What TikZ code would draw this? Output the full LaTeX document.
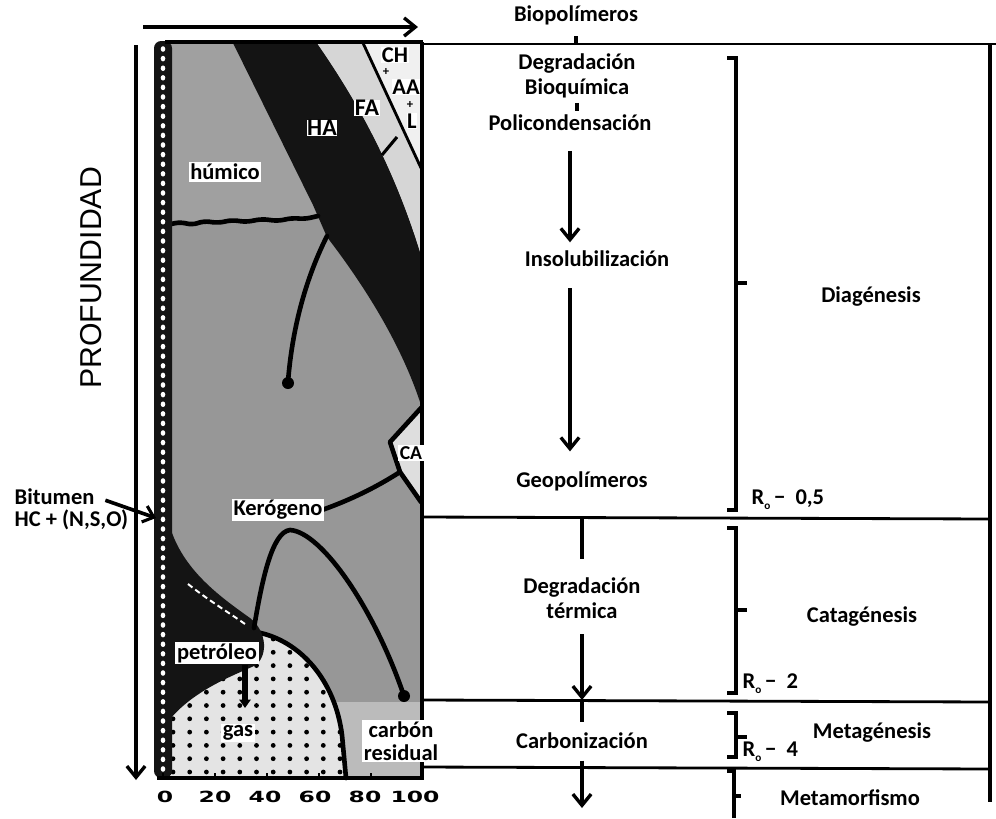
\documentclass[tikz,border=0pt]{standalone}
\usepackage{fontspec}
\usepackage{graphicx}
\setmainfont{Carlito}
\newfontfamily\proffont{Liberation Sans}
\newfontfamily\axisfont{DejaVu Sans}
\usetikzlibrary{arrows.meta}

\definecolor{humgray}{HTML}{A0A0A0}
\definecolor{kergray}{HTML}{979797}
\definecolor{fagray}{HTML}{D6D6D6}
\definecolor{chgray}{HTML}{F0F0F0}
\definecolor{cagray}{HTML}{DEDEDE}
\definecolor{gasgray}{HTML}{E4E4E4}
\definecolor{resgray}{HTML}{BBBBBB}
\definecolor{inkblack}{HTML}{141414}

\begin{document}
\begin{tikzpicture}[
  x=0.025cm, y=-0.025cm,
  every node/.style={font=\fontsize{16}{18}\selectfont\bfseries, inner sep=1pt, align=center},
  tag/.style={fill=white, inner sep=1.2pt},
  big/.style={tag, inner sep=0.4pt, font=\fontsize{16}{16}\selectfont\bfseries},
  plus/.style={inner sep=0pt, font=\fontsize{9}{9}\selectfont\bfseries},
  flow/.style={line width=2.6pt, -{Straight Barb[length=8pt,width=13pt,line width=2.4pt]}},
  sepline/.style={line width=2pt},
  phasebr/.style={line width=2.6pt},
  rim/.style={line width=3.3pt, line cap=round, line join=round},
  num/.style={font=\fontsize{11.5}{11.5}\axisfont\bfseries}]
\useasboundingbox (0,0) rectangle (996,818);

% axis arrows
\coordinate (xa) at (143,27);
\coordinate (xb) at (418,27);
\coordinate (ya) at (136,45);
\coordinate (yb) at (136,780);
\draw[flow] (xa) -- (xb);
\draw[flow] (ya) -- (yb);
\node[font=\fontsize{21.5}{22}\proffont, rotate=90] (prof) at (91,278) {PROFUNDIDAD};

% chart areas
\fill[kergray] (171,43) rectangle (421,778);
\fill[humgray] (171,43) -- (233,43) -- (313,205) -- (318,217) -- (171,223) -- cycle;
\fill[inkblack] (233,43) -- (317,43) .. controls (360,105) and (395,170) .. (421,255)
  -- (421,405) .. controls (400,340) and (360,280) .. (327,237) -- (313,205) -- cycle;
\fill[fagray] (317,43) -- (363,43) -- (421,167) -- (421,255) .. controls (395,170) and (360,105) .. (317,43);
\fill[chgray] (363,43) -- (421,43) -- (421,167) -- cycle;
\draw[line width=2pt] (363,43) -- (421,168);
\draw[line width=2.2pt] (397,137) -- (382,155);

% humic / kerogen limit
\draw[rim, rounded corners=4] (171,224) -- (181,222) -- (192,225) -- (204,221) -- (218,223) -- (232,220)
  -- (246,222) -- (262,219) -- (278,221) -- (292,218) -- (305,219) -- (318,216);
\draw[rim] (327,236) .. controls (305,280) and (292,330) .. (288,382);
\fill (288,383) circle (6);

% CA
\fill[cagray] (421,408) -- (390,442) -- (400,472) -- (421,502) -- cycle;
\draw[rim] (421,408) -- (390,442) -- (400,472) -- (421,502);
\draw[rim] (400,472) .. controls (375,488) and (350,500) .. (322,510);

% residual carbon
\fill[resgray] (336,702) -- (421,702) -- (421,778) -- (346,778) -- cycle;

% gas
\fill[gasgray] (171,778) -- (171,716) .. controls (195,690) and (235,655) .. (256,632)
  .. controls (300,640) and (335,680) .. (342,735) -- (346,778) -- cycle;
\begin{scope}
  \clip (171,778) -- (171,716) .. controls (195,690) and (235,655) .. (256,632)
    .. controls (300,640) and (335,680) .. (342,735) -- (346,778) -- cycle;
  \foreach \gx in {173,189.7,...,345}
    \foreach \gy in {639,652.3,...,775}
      \fill (\gx,\gy) circle (2.4);
\end{scope}
\draw[rim] (256,632) .. controls (300,640) and (335,680) .. (342,735) -- (346,778);

% oil
\fill[inkblack] (171,530) .. controls (185,572) and (222,598) .. (250,618)
  .. controls (268,632) and (268,658) .. (254,666)
  .. controls (232,676) and (195,690) .. (171,718) -- cycle;
\draw[white, line width=1.4pt, dash pattern=on 4pt off 2.5pt] (188,584) .. controls (208,600) and (228,612) .. (245,624);

% kerogen path
\draw[rim] (254,628) .. controls (262,580) and (272,532) .. (290,530)
  .. controls (322,532) and (375,610) .. (404,696);
\fill (404,696) circle (6);

% frame
\fill[inkblack, rounded corners=5] (154,778) -- (154,41) -- (172,41) -- (172,778) -- cycle;
\foreach \by in {49,58.6,...,772}
  \fill[white] (163,\by) ellipse (2.3 and 2.8);
\draw[line width=2.4pt] (165,42) -- (423,42);
\draw[line width=3.2pt] (422,42) -- (422,778);
\draw[line width=2.6pt] (157,778) -- (424,778);
\foreach \v in {0,20,...,100} {
  \draw[line width=2pt] ({163+2.6*\v},778) -- ++(0,-5);
  \node[num] (ax\v) at ({165+2.5*\v},797) {\scalebox{1.45}[0.95]{\v}};
}

% chart labels
\node[tag] (hum) at (225,172) {húmico};
\node[big, font=\fontsize{17}{17}\selectfont\bfseries] (ha) at (322,128) {HA};
\node[big, font=\fontsize{17}{17}\selectfont\bfseries] (fa) at (367,108) {FA};
\node[big] (ch) at (395,55) {CH};
\node[plus] (pl1) at (386,72) {+};
\node[big] (aa) at (406,87) {AA};
\node[plus] (pl2) at (410,105) {+};
\node[big] (lig) at (412,121) {L};
\node[tag, font=\fontsize{14}{14}\selectfont\bfseries] (ca) at (411,453) {CA};
\node[tag] (kero) at (278,510) {Kerógeno};
\node[tag] (petro) at (217,653) {petróleo};
\node[tag] (gas) at (238,733) {gas};
\node[tag, font=\fontsize{16}{16}\selectfont\bfseries] (resid) at (401,741) {carbón\\residual};

\coordinate (gastip) at (245,708);
\draw[line width=4pt, -{Triangle[length=6pt,width=8pt]}] (gastip |- petro.south) -- (gastip);

% bitumen
\node[anchor=west] (bitu) at (13,497) {Bitumen};
\node[anchor=west] (hc) at (13,520) {HC + (N,S,O)};
\coordinate (bittip) at (156,518);
\draw[line width=2.6pt, shorten <=7pt, -{Straight Barb[length=7pt,width=12pt,line width=2.2pt]}] (bitu.east) -- (bittip);

% stages frame
\coordinate (t0) at (421,44);
\coordinate (t1) at (996,44);
\coordinate (r0) at (990,44);
\coordinate (r1) at (990,802);
\coordinate (h1a) at (422,517);
\coordinate (h1b) at (990,519);
\coordinate (h2a) at (422,700);
\coordinate (h2b) at (990,702);
\coordinate (h3a) at (422,767);
\coordinate (h3b) at (990,769);
\draw[sepline] (t0) -- (t1);
\draw[line width=3pt] (r0) -- (r1);
\draw[sepline] (h1a) -- (h1b);
\draw[sepline] (h2a) -- (h2b);
\draw[sepline] (h3a) -- (h3b);

% processes
\node (biop) at (576,15) {Biopolímeros};
\node (degr) at (577,76) {Degradación\\Bioquímica};
\node (poli) at (570,123) {Policondensación};
\node (insol) at (597,259) {Insolubilización};
\node (geo) at (582,481) {Geopolímeros};
\node (dter) at (582,598) {Degradación\\térmica};
\node (carb) at (582,741) {Carbonización};
\coordinate (endarr) at (582,808);

\draw[line width=3pt, shorten <=7pt] (biop.south) -- (biop.south |- t0);
\draw[line width=3pt, shorten <=2pt, shorten >=2pt] (degr.south) -- (degr.south |- poli.north);
\draw[flow, shorten <=13pt, shorten >=5pt] (poli.south) -- (poli.south |- insol.north);
\draw[flow, shorten <=14pt, shorten >=13pt] (insol.south -| poli.south) -- (geo.north -| poli.south);
\draw[line width=3pt, shorten >=12pt] (h1a -| dter) -- (dter.north);
\draw[flow, shorten <=10pt] (dter.south) -- (h2a -| dter);
\draw[line width=3pt, shorten >=7pt] (h2a -| dter) -- (carb.north);
\draw[flow, shorten <=7pt] (carb.south) -- (endarr);

% stages
\node (diag) at (871,297) {Diagénesis};
\node (catag) at (862,617) {Catagénesis};
\node (metag) at (872,733) {Metagénesis};
\node (metam) at (850,798) {Metamorfismo};
\node[anchor=west] (ro1) at (750,500) {R\raisebox{-.45ex}{\footnotesize o}\,−\ \ 0,5};
\node[anchor=west] (ro2) at (741,684) {R\raisebox{-.45ex}{\footnotesize o}\,−\ \ 2};
\node[anchor=west] (ro3) at (741,752) {R\raisebox{-.45ex}{\footnotesize o}\,−\ \ 4};

\foreach \ya/\yb/\ym in {58/510/283, 528/693/610, 713/757/737} {
  \draw[phasebr] (727,\ya) -- (736,\ya) -- (736,\yb) -- (727,\yb);
  \draw[phasebr] (736,\ym) -- (747,\ym);
}
\draw[phasebr] (727,771) -- (734,771) -- (734,818);
\draw[phasebr] (734,796) -- (741,796);
\end{tikzpicture}
\end{document}
